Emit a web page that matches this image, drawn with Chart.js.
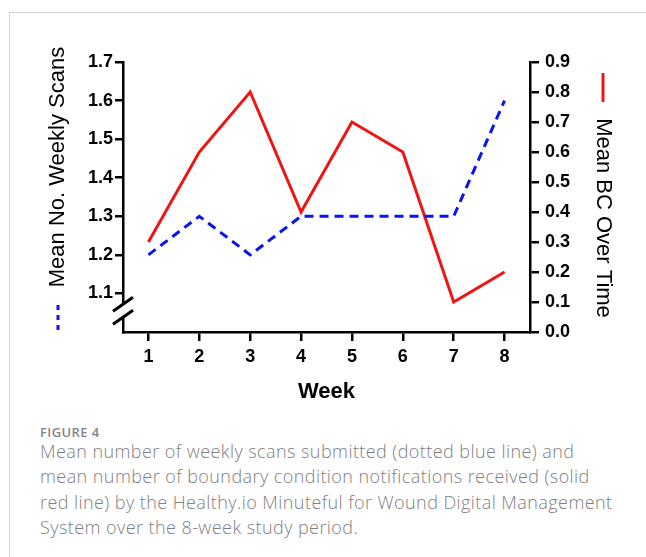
<!DOCTYPE html>
<html>
<head>
<meta charset="utf-8">
<script src="https://cdn.jsdelivr.net/npm/chart.js@4"></script>
<style>
  body { margin: 0; background: #fff; width: 646px; height: 557px; overflow: hidden; position: relative; }
  .frame { position: absolute; left: 9px; top: 12px; width: 700px; height: 600px;
           border-top: 1px solid #d4d4d4; border-left: 1px solid #d4d4d4; }
  #wrap { position: absolute; left: 0; top: 0; width: 646px; height: 420px; }
  .caption { position: absolute; left: 40px; top: 423px; font-family: "Open Sans", sans-serif; color: #777; white-space: nowrap; }
  .caption .fig { font-size: 13px; font-weight: 600; color: #858585; line-height: 18px; letter-spacing: 0.4px; }
  .caption .txt { font-size: 18px; font-weight: 300; line-height: 25.3px; color: #808080; margin-top: -2px; letter-spacing: 0.43px; }
</style>
</head>
<body>
<div class="frame"></div>
<div id="wrap"><canvas id="myChart" width="646" height="420"></canvas></div>
<div class="caption">
  <div class="fig">FIGURE 4</div>
  <div class="txt">Mean number of weekly scans submitted (dotted blue line) and<br>mean number of boundary condition notifications received (solid<br>red line) by the Healthy.io Minuteful for Wound Digital Management<br>System over the 8-week study period.</div>
</div>
<script>
const weeks = ['1', '2', '3', '4', '5', '6', '7', '8'];
const weeklyScans = [1.2, 1.3, 1.2, 1.3, 1.3, 1.3, 1.3, 1.6];
const meanBC = [0.3, 0.6, 0.8, 0.4, 0.7, 0.6, 0.1, 0.2];
const scansTicks = [1.1, 1.2, 1.3, 1.4, 1.5, 1.6, 1.7];
const bcTicks = [0, 0.1, 0.2, 0.3, 0.4, 0.5, 0.6, 0.7, 0.8, 0.9];

const BLUE = '#0a14f0';
const RED = '#f01414';
const tickFont = { family: 'Liberation Sans, Arial, sans-serif', size: 18, weight: 'bold' };

// axis break on the left axis + rotated titles with their line keys
const decorations = {
  id: 'decorations',
  afterDraw(chart) {
    const ctx = chart.ctx;
    const y = chart.scales.y;
    const area = chart.chartArea;
    const xAxis = area.left;

    // break between 1.0 and 1.1
    const b1 = y.getPixelForValue(1.072);
    const b2 = y.getPixelForValue(1.038);
    ctx.save();
    ctx.fillStyle = '#fff';
    ctx.fillRect(xAxis - 3, b1, 6, b2 - b1);
    ctx.strokeStyle = '#000';
    ctx.lineWidth = 3;
    [b1, b2].forEach(function(cy) {
      ctx.beginPath();
      ctx.moveTo(xAxis - 10, cy + 7);
      ctx.lineTo(xAxis + 10, cy - 7);
      ctx.stroke();
    });
    ctx.restore();

    ctx.save();
    ctx.fillStyle = '#000';
    ctx.font = '22px "Liberation Sans", Arial, sans-serif';
    ctx.textAlign = 'center';
    ctx.textBaseline = 'middle';

    // left title
    ctx.save();
    ctx.translate(xAxis - 65, 167);
    ctx.rotate(-Math.PI / 2);
    ctx.fillText('Mean No. Weekly Scans', 0, 0);
    ctx.restore();

    // right title
    ctx.save();
    ctx.translate(area.right + 73, 218);
    ctx.rotate(Math.PI / 2);
    ctx.fillText('Mean BC Over Time', 0, 0);
    ctx.restore();

    // keys
    ctx.lineWidth = 3;
    ctx.strokeStyle = BLUE;
    ctx.setLineDash([5, 5]);
    ctx.beginPath();
    ctx.moveTo(xAxis - 65, 305);
    ctx.lineTo(xAxis - 65, 334);
    ctx.stroke();

    ctx.strokeStyle = RED;
    ctx.setLineDash([]);
    ctx.beginPath();
    ctx.moveTo(area.right + 73, 73);
    ctx.lineTo(area.right + 73, 102);
    ctx.stroke();
    ctx.restore();
  }
};

const ctx = document.getElementById('myChart');

new Chart(ctx, {
  type: 'line',
  data: {
    labels: weeks,
    datasets: [{
      label: 'Mean No. Weekly Scans',
      data: weeklyScans,
      yAxisID: 'y',
      borderColor: BLUE,
      borderWidth: 3,
      borderDash: [9, 6],
      pointRadius: 0,
      tension: 0,
      fill: false
    }, {
      label: 'Mean BC Over Time',
      data: meanBC,
      yAxisID: 'y1',
      borderColor: RED,
      borderWidth: 3,
      pointRadius: 0,
      tension: 0,
      fill: false
    }]
  },
  options: {
    responsive: false,
    animation: false,
    layout: { padding: { top: 62, left: 0, right: 0, bottom: 0 } },
    plugins: {
      legend: { display: false },
      tooltip: { enabled: false }
    },
    scales: {
      x: {
        type: 'category',
        offset: true,
        afterFit: function(scale) { scale.height = 88; },
        grid: { offset: false, drawOnChartArea: false, color: '#000', lineWidth: 2.5, tickLength: 9 },
        border: { display: true, color: '#000', width: 2.5 },
        ticks: { color: '#000', font: tickFont, padding: 5 },
        title: {
          display: true,
          text: 'Week',
          color: '#000',
          font: { family: 'Liberation Sans, Arial, sans-serif', size: 22, weight: 'bold' },
          padding: { top: 4, bottom: 15 }
        }
      },
      y: {
        position: 'left',
        min: 1.0,
        max: 1.7,
        afterFit: function(scale) { scale.width = 123; },
        afterBuildTicks: function(scale) {
          scale.ticks = scansTicks.map(function(v) { return { value: v }; });
        },
        grid: { drawOnChartArea: false, color: '#000', lineWidth: 2.5, tickLength: 8 },
        border: { display: true, color: '#000', width: 2.5 },
        ticks: {
          color: '#000', font: tickFont, padding: 2,
          callback: function(v) { return v.toFixed(1); }
        }
      },
      y1: {
        position: 'right',
        min: 0,
        max: 0.9,
        afterFit: function(scale) { scale.width = 116; },
        afterBuildTicks: function(scale) {
          scale.ticks = bcTicks.map(function(v) { return { value: v }; });
        },
        grid: { drawOnChartArea: false, color: '#000', lineWidth: 2.5, tickLength: 9 },
        border: { display: true, color: '#000', width: 2.5 },
        ticks: {
          color: '#000', font: tickFont, padding: 6,
          callback: function(v) { return v.toFixed(1); }
        }
      }
    }
  },
  plugins: [decorations]
});
</script>
</body>
</html>
